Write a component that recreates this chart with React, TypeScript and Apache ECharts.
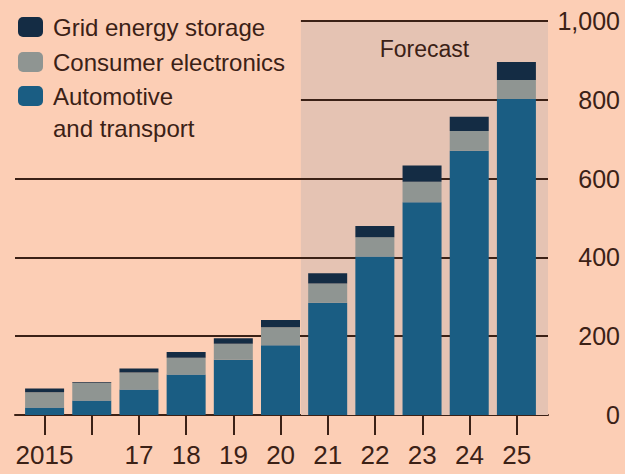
import React, { useEffect, useRef } from "react";
import * as echarts from "echarts";

const years = ["2015", "", "17", "18", "19", "20", "21", "22", "23", "24", "25"];
const automotive = [19, 37, 65, 103, 140, 177, 285, 402, 540, 671, 802];
const consumer = [39, 44, 43, 42, 41, 46, 49, 49, 52, 50, 48];
const grid = [9, 2, 10, 15, 14, 18, 26, 29, 41, 36, 46];
const yTicks = [0, 200, 400, 600, 800, 1000];
const forecastStart = 5.43;

const BG = "#fcceb5";
const INK = "#3b2116";
const FONT = "'Liberation Sans', Arial, sans-serif";

export default function App() {
  const ref = useRef<HTMLDivElement>(null);
  useEffect(() => {
    document.body.style.margin = "0";
    const chart = echarts.init(ref.current!, null, { renderer: "svg" });
    const idx = years.map((_, i) => i);
    const XMIN = -0.625;
    const XMAX = 10.663;
    const legendBase = {
      left: 18,
      orient: "vertical",
      padding: 0,
      itemWidth: 25,
      itemHeight: 20,
      itemGap: 0,
      selectedMode: false,
      textStyle: {
        fontFamily: FONT,
        fontSize: 24,
        color: INK,
        rich: { t: { fontFamily: FONT, fontSize: 24, color: INK, padding: [0, 0, 0, 5], lineHeight: 32 } },
      },
    };
    chart.setOption({
      animation: false,
      backgroundColor: BG,
      grid: [
        { left: 15, right: 625 - 548, top: 21, bottom: 474 - 415 },
        { left: 21, right: 625 - 540, top: 21, bottom: 474 - 415 },
      ],
      legend: [
        { ...legendBase, top: 15, data: ["Grid energy storage"], formatter: (n: string) => `{t|${n}}` },
        { ...legendBase, top: 50, data: ["Consumer electronics"], formatter: (n: string) => `{t|${n}}` },
        {
          ...legendBase,
          top: 52,
          data: ["Automotive"],
          formatter: () => "{t|}\n{t|Automotive}\n{t|and transport}",
        },
      ],
      xAxis: [
        {
          type: "value",
          gridIndex: 0,
          min: XMIN,
          max: XMAX,
          splitLine: { show: false },
          axisLine: { show: true, lineStyle: { color: INK, width: 2 } },
          axisTick: {
            show: true,
            customValues: idx,
            length: 20,
            lineStyle: { color: INK, width: 2 },
          },
          axisLabel: {
            customValues: idx,
            formatter: (v: number) => years[Math.round(v)] ?? "",
            fontFamily: FONT,
            fontSize: 26,
            color: INK,
            margin: 27,
          },
        },
        {
          type: "category",
          gridIndex: 1,
          data: years,
          show: false,
        },
      ],
      yAxis: [
        {
          type: "value",
          gridIndex: 0,
          position: "right",
          min: 0,
          max: 1000,
          interval: 200,
          splitLine: { show: false },
          axisLine: { show: false },
          axisTick: { show: false },
          axisLabel: {
            fontFamily: FONT,
            fontSize: 25,
            color: INK,
            align: "right",
            margin: 72,
            formatter: (v: number) => v.toLocaleString("en-US"),
          },
        },
        {
          type: "value",
          gridIndex: 1,
          min: 0,
          max: 1000,
          show: false,
          splitLine: { show: false },
        },
      ],
      series: [
        {
          name: "frame",
          type: "line",
          xAxisIndex: 0,
          yAxisIndex: 0,
          data: [],
          silent: true,
          markArea: {
            silent: true,
            z: 1,
            itemStyle: { color: "#e5c3b3", opacity: 1 },
            label: {
              show: true,
              position: "insideTop",
              distance: 16,
              fontFamily: FONT,
              fontSize: 23,
              color: INK,
            },
            data: [[{ name: "Forecast", xAxis: forecastStart, yAxis: 0 }, { xAxis: XMAX, yAxis: 1000 }]],
          },
          markLine: {
            silent: true,
            z: 2,
            symbol: ["none", "none"],
            label: { show: false },
            lineStyle: { color: INK, width: 2, type: "solid" },
            emphasis: { disabled: true },
            data: [
              ...yTicks.filter((t) => t > 0 && t < 800).map((t) => ({ yAxis: t })),
              ...yTicks
                .filter((t) => t >= 800)
                .map((t) => [{ coord: [forecastStart, t] }, { coord: [XMAX, t] }]),
            ],
          },
        },
        {
          name: "Automotive",
          type: "bar",
          stack: "total",
          xAxisIndex: 1,
          yAxisIndex: 1,
          barWidth: 39,
          z: 3,
          itemStyle: { color: "#1a5d83" },
          data: automotive,
        },
        {
          name: "Consumer electronics",
          type: "bar",
          stack: "total",
          xAxisIndex: 1,
          yAxisIndex: 1,
          barWidth: 39,
          z: 3,
          itemStyle: { color: "#8f9592" },
          data: consumer,
        },
        {
          name: "Grid energy storage",
          type: "bar",
          stack: "total",
          xAxisIndex: 1,
          yAxisIndex: 1,
          barWidth: 39,
          z: 3,
          itemStyle: { color: "#142c44" },
          data: grid,
        },
      ],
    });
    return () => chart.dispose();
  }, []);
  return (
    <div
      ref={ref}
      style={{ position: "fixed", left: 0, top: 0, width: 625, height: 474 }}
    />
  );
}
